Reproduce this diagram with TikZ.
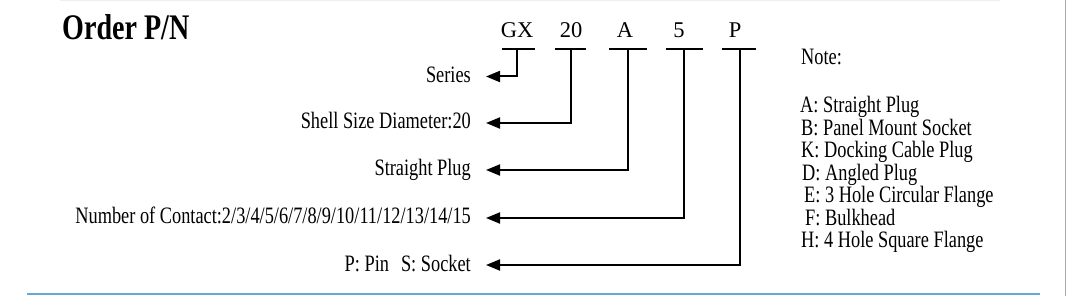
\documentclass[tikz,border=0pt]{standalone}
\usepackage{fontspec}
\setmainfont{Liberation Serif}[FakeStretch=0.78]
\newfontfamily\plainserif{Liberation Serif}
\usetikzlibrary{arrows.meta}
\definecolor{rulegray}{RGB}{170,170,170}
\definecolor{ruleblue}{RGB}{100,170,210}
\begin{document}
\begin{tikzpicture}[x=1pt,y=-1pt,
  lbl/.style={anchor=east, inner xsep=15pt, inner ysep=0pt, text height=15pt, text depth=3pt,
    font=\fontsize{23.5}{26}\selectfont},
  code/.style={anchor=base, inner sep=0pt, font=\plainserif\fontsize{22.5}{24}\selectfont},
  note/.style={anchor=base west, inner sep=0pt, font=\fontsize{23.5}{26}\selectfont},
  bar/.style={line width=2.5pt},
  conn/.style={line width=2pt, -{Triangle[length=14pt,width=11pt]}},
]
\useasboundingbox (0,0) rectangle (1067,296);
% frame lines
\draw[rulegray!20, line width=0.8pt] (60,0.5) -- (1000,0.5);
\draw[rulegray, line width=1.5pt] (1065.5,0) -- (1065.5,296);
\draw[ruleblue, line width=2pt] (27,293.5) -- (1040,293.5);

% title
\node[anchor=base west, inner sep=0pt, font=\fontsize{36}{40}\selectfont\bfseries] (title) at (62,40) {Order P/N};

% code letters
\node[code] (gx) at (517,38) {GX};
\node[code] (sz) at (571,38) {20};
\node[code] (ty) at (625,38) {A};
\node[code] (nc) at (679,38) {5};
\node[code] (pn) at (735,38) {P};

% bars
\draw[bar] (502,49) -- (535,49);
\draw[bar] (555,49) -- (586,49);
\draw[bar] (609,49) -- (647,49);
\draw[bar] (666,49) -- (703,49);
\draw[bar] (722,49) -- (756,49);
\coordinate (gxs) at (517,49);
\coordinate (szs) at (571,49);
\coordinate (tys) at (628,49);
\coordinate (ncs) at (684,49);
\coordinate (pns) at (740,49);

% labels
\node[lbl] (series) at (486,76.5) {Series};
\node[lbl] (shell) at (486,123) {Shell Size Diameter:20};
\node[lbl] (plug) at (486,170) {Straight Plug};
\node[lbl] (contact) at (486,218) {Number of Contact:2/3/4/5/6/7/8/9/10/11/12/13/14/15};
\node[lbl] (pin) at (486,265) {P: Pin\hspace{12pt}S: Socket};

% connectors
\draw[conn] (gxs) |- (series.east);
\draw[conn] (szs) |- (shell.east);
\draw[conn] (tys) |- (plug.east);
\draw[conn] (ncs) |- (contact.east);
\draw[conn] (pns) |- (pin.east);

% note
\node[note] (n0) at (801,65) {Note:};
\node[note] (n1) at (800,112.7) {A: Straight Plug};
\node[note] (n2) at (801,135.2) {B: Panel Mount Socket};
\node[note] (n3) at (801,157.7) {K: Docking Cable Plug};
\node[note] (n4) at (802,180.2) {D: Angled Plug};
\node[note] (n5) at (804,202.7) {E: 3 Hole Circular Flange};
\node[note] (n6) at (805,225.2) {F: Bulkhead};
\node[note] (n7) at (801,247.7) {H: 4 Hole Square Flange};
\end{tikzpicture}
\end{document}
